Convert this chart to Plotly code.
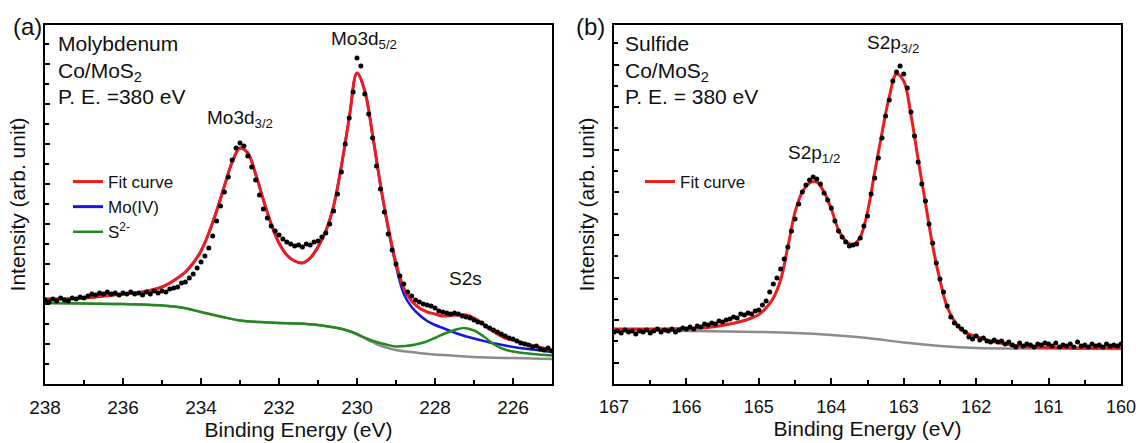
import numpy as np
import plotly.graph_objects as go

FONT = "Liberation Sans, Arial, sans-serif"
W, H = 1136, 443

# ---------------- Panel (a): Mo 3d ----------------
mo_data = [
    84, 82, 85, 83, 86, 84, 83, 86, 85, 87,
    86, 88, 90, 89, 91, 90, 92, 90, 91, 89,
    91, 90, 92, 90, 91, 89, 92, 90, 93, 91,
    93, 92, 95, 96, 97, 101, 102, 106, 110, 116,
    122, 128, 136, 148, 163, 178, 192, 207, 224, 236,
    241, 238, 228, 217, 204, 189, 175, 166, 158, 153,
    149, 145, 142, 140, 138, 139, 137, 140, 139, 142,
    143, 147, 151, 160, 173, 190, 212, 240, 266, 292,
    326, 318, 290, 270, 246, 218, 195, 172, 150, 134,
    120, 108, 100, 92, 88, 84, 82, 80, 79, 78,
    76, 73, 72, 71, 70, 71, 70, 68, 67, 66,
    64, 62, 61, 58, 56, 54, 52, 50, 48, 46,
    45, 43, 41, 40, 39, 37, 38, 35, 34, 36,
    33,
]
mo_energy = np.round(238.0 - 0.1 * np.arange(len(mo_data)), 2)

mo_fit_energy = [238, 237.5, 237, 236.5, 236, 235.5, 235,
                 234.6, 234.4, 234.2, 234.0, 233.8, 233.6, 233.4, 233.2, 233.0,
                 232.8, 232.6, 232.4, 232.2, 232.0, 231.8, 231.6, 231.4, 231.2,
                 231.0, 230.8, 230.6, 230.4, 230.2, 230.0, 229.8, 229.6, 229.4,
                 229.2, 229.0, 228.8, 228.6, 228.4, 228.2, 228.0, 227.8, 227.6,
                 227.4, 227.2, 227.0, 226.8, 226.6, 226.4, 226.2, 226.0, 225.5, 225.0]
mo_fit = [85, 85, 86, 88, 90, 92, 97,
          106, 112, 121, 133, 151, 173, 198, 222, 236,
          231, 210, 184, 160, 141, 129, 123, 121, 126,
          137, 153, 178, 218, 266, 311, 293, 249, 200,
          157, 121, 96, 83, 76, 72, 70, 68, 68.5,
          69, 69, 66, 61, 55, 50, 46, 44, 38.5, 34]
mo_iv = [85, 85, 86, 88, 90, 92, 97,
         106, 112, 121, 133, 151, 173, 198, 222, 236,
         231, 210, 184, 160, 141, 129, 123, 121, 126,
         137, 153, 178, 218, 266, 311, 293, 249, 199,
         155, 118, 90, 77, 69, 63, 59, 56, 53,
         50, 47.5, 45.5, 43.5, 41.5, 40, 38.5, 37, 34.5, 32]

mo_bg_energy = [238, 237, 236, 235, 234.5, 234, 233.5, 233, 232.5, 232, 231.5, 231,
                230.5, 230.25, 230, 229.75, 229.5, 229.25, 229, 228.5, 228, 227.5,
                227, 226.5, 226, 225.5, 225]
mo_bg = [81, 80.5, 80, 78.5, 76.5, 72, 67.5, 63.5, 62, 61, 60.5, 59,
         56, 53.5, 49.5, 44.5, 40, 36.5, 34, 31.5, 29.5, 28.3,
         27, 26.3, 26, 25.5, 25]

s2_energy = [238, 237, 236, 235, 234.5, 234, 233.5, 233, 232.5, 232, 231.5, 231,
             230.5, 230.25, 230, 229.75, 229.5, 229.25, 229.0, 228.75, 228.5, 228.25,
             228.0, 227.75, 227.5, 227.25, 227.0, 226.75, 226.5, 226.25, 226.0, 225.5, 225.0]
s2_curve = [81, 80.5, 80, 78.5, 76.5, 72, 67.5, 63.5, 62, 61, 60.5, 59,
            56, 53.5, 50, 45.5, 42, 39.5, 37.5, 38, 39.5, 42,
            46, 50.5, 54, 56, 53.5, 47.5, 40, 35, 32.5, 30, 28.5]

# ---------------- Panel (b): S 2p ----------------
s_data = [
    52, 53, 51, 54, 52, 53, 50, 53, 52, 54,
    51, 53, 55, 52, 54, 53, 55, 52, 54, 56,
    55, 57, 55, 58, 57, 60, 59, 61, 60, 63,
    62, 64, 65, 67, 66, 70, 69, 71, 70, 73,
    74, 79, 83, 92, 100, 106, 115, 125, 137, 153,
    165, 180, 192, 199, 204, 207, 205, 200, 191, 184,
    176, 163, 153, 147, 142, 138, 139, 140, 146, 158,
    168, 190, 206, 226, 246, 268, 284, 303, 312, 318,
    310, 296, 272, 248, 222, 200, 183, 160, 141, 121,
    105, 92, 78, 67, 61, 58, 55, 52, 47, 45,
    48, 44, 46, 43, 42, 44, 42, 43, 40, 42,
    39, 37, 41, 38, 40, 39, 37, 40, 39, 41,
    40, 38, 41, 37, 39, 38, 40, 37, 42, 38,
    39, 37, 40, 38, 39, 37, 40, 38, 39, 38,
    40,
]
s_energy = np.round(167.0 - 0.05 * np.arange(len(s_data)), 3)

s_fit_energy = [167.0, 166.5, 166.0, 165.8, 165.6, 165.4, 165.2, 165.1, 165.0,
                164.9, 164.8, 164.7, 164.6, 164.5, 164.4, 164.3, 164.2, 164.1,
                164.0, 163.9, 163.8, 163.7, 163.6, 163.5, 163.4, 163.3, 163.2,
                163.1, 163.0, 162.9, 162.8, 162.7, 162.6, 162.5, 162.4, 162.3,
                162.2, 162.1, 162.0, 161.8, 161.6, 161.4, 161.2, 161.0, 160.5, 160.0]
s_fit = [55, 55, 55.5, 56, 57.5, 60, 63.5, 66, 69.5,
         76, 86, 104, 137, 172, 192, 201, 202, 192,
         175, 154, 143, 139.5, 147, 172, 212, 251, 287,
         310, 303, 269, 224, 181, 138, 104, 77, 63,
         54, 50, 47.5, 43, 40, 38, 37, 36.5, 36, 36]

s_bg_energy = [167.0, 166.0, 165.0, 164.5, 164.0, 163.5, 163.0, 162.5, 162.0, 161.0, 160.0]
s_bg = [54, 53, 52, 51, 49, 46, 41.5, 38, 36, 35.5, 35]

RED = "#ee1c1c"
BLUE = "#1515e6"
GREEN = "#238a1e"
GRAY = "#8c8c8c"

fig = go.Figure()

# panel a
fig.add_trace(go.Scatter(x=mo_bg_energy, y=mo_bg, mode="lines", line=dict(color=GRAY, width=2.5, shape="spline"),
                         showlegend=False, xaxis="x", yaxis="y"))
fig.add_trace(go.Scatter(x=mo_fit_energy, y=mo_iv, mode="lines", line=dict(color=BLUE, width=2.5, shape="spline"),
                         name="Mo(IV)", showlegend=False, xaxis="x", yaxis="y"))
fig.add_trace(go.Scatter(x=mo_fit_energy, y=mo_fit, mode="lines", line=dict(color=RED, width=3, shape="spline"),
                         name="Fit curve", legend="legend", legendrank=1, xaxis="x", yaxis="y"))
fig.add_trace(go.Scatter(x=[None], y=[None], mode="lines", line=dict(color=BLUE, width=3),
                         name="Mo(IV)", legend="legend", legendrank=2, xaxis="x", yaxis="y"))
fig.add_trace(go.Scatter(x=s2_energy, y=s2_curve, mode="lines", line=dict(color=GREEN, width=2.5, shape="spline"),
                         name="S<sup>2-</sup>", legend="legend", legendrank=3, xaxis="x", yaxis="y"))
fig.add_trace(go.Scatter(x=mo_energy, y=mo_data, mode="markers", marker=dict(color="black", size=5),
                         showlegend=False, xaxis="x", yaxis="y"))

# panel b
fig.add_trace(go.Scatter(x=s_bg_energy, y=s_bg, mode="lines", line=dict(color=GRAY, width=2.5, shape="spline"),
                         showlegend=False, xaxis="x2", yaxis="y2"))
fig.add_trace(go.Scatter(x=s_fit_energy, y=s_fit, mode="lines", line=dict(color=RED, width=3, shape="spline"),
                         name="Fit curve", legend="legend2", xaxis="x2", yaxis="y2"))
fig.add_trace(go.Scatter(x=s_energy, y=s_data, mode="markers", marker=dict(color="black", size=5),
                         showlegend=False, xaxis="x2", yaxis="y2"))

def xax(domain, rng, dtick, minor_dtick, tick0, fsize):
    return dict(domain=domain, range=rng, tick0=tick0, dtick=dtick, automargin=False,
                ticks="inside", ticklen=6, tickwidth=2, tickcolor="black",
                minor=dict(ticks="inside", ticklen=4, tickwidth=2, tickcolor="black", dtick=minor_dtick, tick0=tick0),
                showline=True, linewidth=2, linecolor="black", mirror=True,
                showgrid=False, zeroline=False, ticklabeloverflow="allow",
                tickfont=dict(family=FONT, size=fsize, color="#111"),
                ticklabelstandoff=5,
                title=dict(text="Binding Energy (eV)", font=dict(family=FONT, size=21, color="#111"), standoff=5))

def yax(anchor, tick0, dtick, minor_dtick):
    return dict(domain=[1 - 384 / H, 1 - 25 / H], range=[0, 359], anchor=anchor, automargin=False,
                tick0=tick0, dtick=dtick, ticks="inside", ticklen=5, tickwidth=2, tickcolor="black",
                minor=dict(ticks="inside", ticklen=4, tickwidth=2, tickcolor="black", dtick=minor_dtick, tick0=tick0),
                showticklabels=False, showline=True, linewidth=2, linecolor="black", mirror=True,
                showgrid=False, zeroline=False,
                title=dict(text="Intensity (arb. unit)", font=dict(family=FONT, size=21, color="#111"), standoff=12))

ax1 = xax([45 / W, 552 / W], [238, 225], 2, 1, 238, 19)
ax1["anchor"] = "y"
ax2 = xax([614 / W, 1121 / W], [167, 160], 1, 0.5, 167, 18)
ax2["anchor"] = "y2"

annotations = []
def ann(text, x, y, size, xanchor="center", xref="paper", yref="paper"):
    annotations.append(dict(text=text, x=x, y=y, xref=xref, yref=yref, xanchor=xanchor, yanchor="middle",
                            showarrow=False, font=dict(family=FONT, size=size, color="#111")))

ann("(a)", 27 / W, 1 - 26 / H, 24)
ann("(b)", 591 / W, 1 - 26 / H, 24)
for x0, lines in ((56, ["Molybdenum", "Co/MoS<sub>2</sub>", "P. E. =380 eV"]),
                  (623, ["Sulfide", "Co/MoS<sub>2</sub>", "P. E. = 380 eV"])):
    for ypix, t in zip((43, 72, 97), lines):
        ann(t, x0 / W, 1 - ypix / H, 21, xanchor="left")

ann("Mo3d<sub>3/2</sub>", 233.0, 265, 19, xref="x", yref="y")
ann("Mo3d<sub>5/2</sub>", 229.82, 344, 19, xref="x", yref="y")
ann("S2s", 227.23, 106, 19, xref="x", yref="y")
ann("S2p<sub>1/2</sub>", 164.24, 230, 19, xref="x2", yref="y2")
ann("S2p<sub>3/2</sub>", 163.15, 340, 19, xref="x2", yref="y2")

leg_common = dict(xanchor="left", yanchor="top", bgcolor="rgba(0,0,0,0)",
                  font=dict(family=FONT, size=17, color="#111"), tracegroupgap=0, itemwidth=30)

fig.update_layout(
    width=W, height=H, margin=dict(l=0, r=0, t=0, b=0, autoexpand=False),
    paper_bgcolor="white", plot_bgcolor="white",
    xaxis=ax1, yaxis=yax("x", 0, 40, 20),
    xaxis2=ax2, yaxis2=yax("x2", 21.3, 42.6, 21.3),
    annotations=annotations,
    legend=dict(x=68 / W, y=1 - 164 / H, **leg_common),
    legend2=dict(x=640 / W, y=1 - 164 / H, **leg_common),
    font=dict(family=FONT),
)

fig.write_html("out.html")
